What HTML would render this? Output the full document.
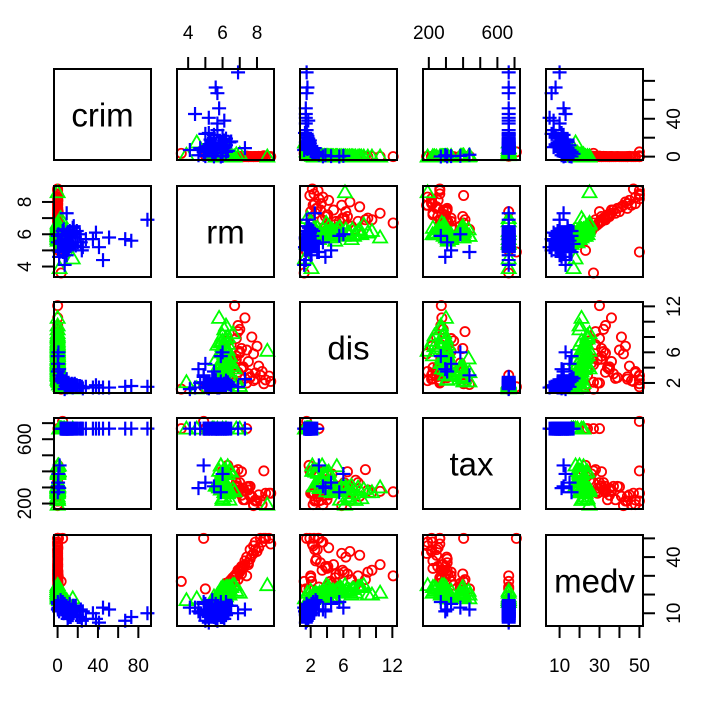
<!DOCTYPE html>
<html><head><meta charset="utf-8"><style>
html,body{margin:0;padding:0;background:#fff}
svg text{font-family:"Liberation Sans",Arial,sans-serif;fill:#000}
</style></head><body>
<svg id="chart" width="719" height="708" viewBox="0 0 719 708" xmlns="http://www.w3.org/2000/svg"></svg>
<script>
const variables = ["crim","rm","dis","tax","medv"];
const ranges = [[0.00632,88.976],[3.561,8.78],[1.13,12.13],[187,711],[5,50]];
const ticks = [[0,20,40,60,80],[4,5,6,7,8],[2,4,6,8,10,12],[200,300,400,500,600,700],[10,20,30,40,50]];
const tickLabels = [["0","","40","","80"],["4","","6","","8"],["2","","6","","","12"],["200","","","","600",""],["10","","30","","50"]];
const leftLabels = [[],["4","","6","","8"],[],["200","","","","600",""],[]];
const rightLabels = [["0","","40","",""],[],["2","","6","","","12"],[],["10","","","40",""]];

const redCrim=[0.01,0.03,0.02,0.06,0.1,0.05,0.3,0.5,0.02,0.04,0.08,0.6,0.2,0.01,0.03,0.07,0.15,0.9,1.2,0.4,0.05,0.02,0.3,5.0,0.1,0.06,0.02,0.8,3.5,0.04,
 0.02,0.05,0.1,0.03,0.2,0.08,0.01,0.4,0.06,0.12,0.03,0.09,0.25,0.04,0.15,0.07,0.02,0.5,0.11,0.05];
const redRm=[7.2,8.7,6.8,7.5,6.5,7.9,7.0,6.2,8.3,7.7,6.9,7.4,6.6,8.0,7.1,6.4,7.6,8.4,5.0,6.1,7.8,6.3,8.1,4.9,7.3,6.7,8.8,6.0,3.6,7.0,
 6.6,7.3,6.9,7.8,6.4,7.1,8.2,6.7,7.5,6.8,7.0,8.5,6.5,7.4,6.9,7.2,7.6,6.3,7.9,6.8];
const redDis=[4.0,2.9,5.5,3.2,7.0,2.5,6.1,4.6,3.5,8.0,9.5,2.0,5.0,6.8,3.8,4.4,2.7,1.9,1.4,3.0,5.8,7.5,4.2,1.5,10.5,12.1,2.2,3.6,1.2,9.0,
 2.0,2.6,3.4,2.3,5.2,6.5,3.0,2.1,4.8,7.8,5.9,2.4,3.9,6.3,8.7,4.1,2.8,1.8,3.3,5.1];
const redTax=[224,264,300,307,270,216,330,384,193,245,270,666,296,216,252,330,307,403,666,666,187,345,254,711,276,273,264,403,666,284,
 264,224,307,193,270,398,216,403,284,330,287,264,384,304,411,296,245,437,222,311];
const redMedv=[34,50,31,37,28,44,32,26,48,41,33,30,29,43,35,27,39,50,23,24,42,25,45,50,36,30,47,22,27,32,
 29,38,33,46,26,31,50,27,36,30,33,50,24,40,28,35,44,23,48,31];

const greenCrim=[0.03,0.1,0.2,0.05,0.5,0.8,0.15,0.07,1.5,0.3,0.04,0.6,2.5,0.02,0.09,0.4,3.0,0.12,0.25,5.5,0.06,0.35,0.18,1.0,0.08,9.0,0.22,0.05,4.0,0.14,0.45,0.03,0.7,15,0.11,0.28,2.0,0.01,0.16,7.0,
 0.1,0.2,0.05,0.3,0.6,0.15,0.08,0.4,0.02,0.9,0.25,0.12,0.5,0.07,0.18,1.2,0.35,0.04,0.22,0.09,0.7,0.13,0.28,0.06,0.45];
const greenRm=[6.0,5.9,6.2,6.3,5.8,6.1,6.4,5.7,6.0,6.5,6.2,5.9,6.8,6.1,5.6,6.3,7.0,6.0,6.2,5.4,6.6,5.9,6.1,6.4,5.8,6.2,6.0,8.6,5.5,6.3,5.9,6.1,6.2,4.5,6.0,5.8,3.9,6.2,6.7,5.7,
 5.9,6.1,6.0,6.2,5.8,6.3,6.0,6.1,5.9,6.2,6.4,5.8,6.0,6.1,6.3,5.9,6.2,6.0,6.1,5.7,6.0,6.2,5.9,6.3,6.1];
const greenDis=[6.0,4.5,3.8,8.0,2.5,2.2,5.5,7.0,1.8,4.2,9.5,3.0,2.0,6.5,5.0,3.5,1.6,7.5,4.8,1.5,8.5,3.2,5.8,2.8,10.5,1.7,4.0,6.2,1.9,5.2,3.4,9.0,2.6,1.3,6.8,4.4,2.1,7.8,3.9,1.6,
 2.4,3.1,4.7,5.3,2.7,6.3,3.6,4.1,7.3,2.3,5.6,3.3,2.9,6.7,4.6,2.2,3.9,8.2,5.1,3.0,2.6,4.3,6.0,7.1,3.7];
const greenTax=[300,330,296,280,307,403,284,311,666,398,270,330,666,245,311,384,666,222,277,666,289,330,304,403,300,666,391,193,666,432,437,270,403,666,233,307,666,300,276,666,
 307,296,330,277,403,304,311,384,287,403,224,330,391,300,270,437,307,233,289,330,398,304,311,264,384];
const greenMedv=[21,19,22,24,18,19,23,20,17,24,20,19,22,23,18,21,21,21,22,16,25,19,22,20,21,17,23,25,19,22,20,20,21,18,22,19,17,24,25,16,
 20,21,22,23,19,22,20,21,23,19,24,18,20,22,21,18,20,24,22,19,20,21,22,23,20];

const blueCrim=[89,73,51,38,25,15,10,8,12,20,45,67,9,14,18,5,0.3,0.5,0.8,1.5,3,6,11,22,28,41,7,13,16,2,0.2,4,9,19,24,
 8,11,14,6,9,13,17,10,7,12,5,15,23,9,11,35,4,8,10,6];
const blueRm=[6.9,5.6,5.8,6.1,5.2,6.4,5.0,5.6,6.2,5.5,4.4,5.7,7.3,5.9,5.3,4.9,5.5,5.0,6.0,4.6,5.4,6.3,5.1,6.0,5.7,5.2,4.1,5.8,6.5,4.9,5.9,5.6,4.7,6.2,5.0,
 5.7,6.0,5.4,6.3,5.1,5.9,6.1,5.6,4.9,5.3,6.2,5.8,5.5,6.0,5.2,5.7,5.9,5.4,6.1,5.0];
const blueDis=[1.5,1.6,1.4,1.7,1.3,1.8,2.0,2.2,1.5,1.6,1.4,1.5,2.5,1.9,1.7,2.8,3.5,4.5,6.0,3.8,2.6,2.1,1.9,1.6,1.5,1.4,1.2,1.8,1.6,3.0,5.5,2.4,2.0,1.7,1.5,
 1.6,1.8,1.5,2.0,1.4,1.7,1.9,1.5,2.1,1.6,2.3,1.4,1.5,1.8,1.7,1.4,2.2,1.6,1.9,2.0];
const blueTax=[666,666,666,666,666,666,666,666,666,666,666,666,666,666,666,666,307,330,384,296,666,666,666,666,666,666,666,666,666,437,270,666,666,666,666,
 666,666,666,666,666,666,666,666,666,666,666,666,666,666,666,666,666,666,666,666];
const blueMedv=[10,8,12,7,11,14,9,13,15,8,13,6,12,10,14,16,12,15,13,11,17,10,9,8,7,5,13,11,14,12,16,15,10,9,6,
 12,10,9,14,11,8,13,7,15,10,16,9,12,11,8,10,14,13,9,11];

const groups=[
 {name:"red",color:"#ff0000",shape:"circle",cols:[redCrim,redRm,redDis,redTax,redMedv]},
 {name:"green",color:"#00ff00",shape:"triangle",cols:[greenCrim,greenRm,greenDis,greenTax,greenMedv]},
 {name:"blue",color:"#0000ff",shape:"plus",cols:[blueCrim,blueRm,blueDis,blueTax,blueMedv]}
];

const NS="http://www.w3.org/2000/svg";
const svg=document.getElementById("chart");
const colX=[54,177,300,423,546], rowY=[69,186,302,418,535], W=97, H=91;
function mk(tag,attrs,parent){const e=document.createElementNS(NS,tag);for(const k in attrs)e.setAttribute(k,attrs[k]);(parent||svg).appendChild(e);return e;}
function sx(v,i,x0){const[a,b]=ranges[i];const r=b-a;return x0+(v-(a-0.04*r))/(1.08*r)*W;}
function sy(v,i,y0){const[a,b]=ranges[i];const r=b-a;return y0+H-(v-(a-0.04*r))/(1.08*r)*H;}

for(let r=0;r<5;r++){for(let c=0;c<5;c++){
  const x0=colX[c],y0=rowY[r];
  const g=mk("g",{});
  
  
  const clip=mk("clipPath",{id:"cp"+r+c},g);
  mk("rect",{x:x0-6,y:y0-6,width:W+12,height:H+12},clip);
  if(r===c){
    const t=mk("text",{x:x0+W/2,y:y0+H/2+12,"text-anchor":"middle","font-size":"33"},g);
    t.textContent=variables[r];
    
    
  } else {
    const pts=mk("g",{"clip-path":"url(#cp"+r+c+")"},g);
    for(const grp of groups){
      const xs=grp.cols[c], ys=grp.cols[r];
      for(let k=0;k<xs.length;k++){
        const px=sx(xs[k],c,x0), py=sy(ys[k],r,y0);
        let m;
        if(grp.shape==="circle") m=mk("circle",{cx:px,cy:py,r:4.6,fill:"none",stroke:grp.color,"stroke-width":1.8},pts);
        else if(grp.shape==="triangle") m=mk("polygon",{points:`${px},${py-7} ${px-7},${py+5} ${px+7},${py+5}`,fill:"none",stroke:grp.color,"stroke-width":1.8},pts);
        else m=mk("path",{d:`M${px-7},${py}H${px+7}M${px},${py-7}V${py+7}`,stroke:grp.color,"stroke-width":2.2},pts);
        
        
      }
    }
  }
  const box=mk("rect",{x:x0,y:y0,width:W,height:H,fill:"none",stroke:"#000","stroke-width":2},g);
  
  
}}

function axisH(c,y,dir,labels,name){
  const g=mk("g",{});
  
  
  ticks[c].forEach((t,i)=>{
    const x=sx(t,c,colX[c]);
    mk("line",{x1:x,x2:x,y1:y,y2:y+dir*12,stroke:"#000","stroke-width":2},g);
    if(labels[i]){const tx=mk("text",{x:x,y:dir<0?y-30:y+46,"text-anchor":"middle","font-size":"19"},g);tx.textContent=labels[i];}
  });
}
function axisV(r,x,dir,labels,name){
  const g=mk("g",{});
  
  
  ticks[r].forEach((t,i)=>{
    const y=sy(t,r,rowY[r]);
    mk("line",{x1:x,x2:x+dir*12,y1:y,y2:y,stroke:"#000","stroke-width":2},g);
    if(labels&&labels[i]){const lx=dir<0?x-30:x+30;const tx=mk("text",{x:lx,y:y,"text-anchor":"middle","font-size":"19",transform:`rotate(-90 ${lx} ${y}) translate(0 7)`},g);tx.textContent=labels[i];}
  });
}
axisH(1,rowY[0],-1,tickLabels[1],"top-axis-rm");
axisH(3,rowY[0],-1,tickLabels[3],"top-axis-tax");
axisH(0,rowY[4]+H,1,tickLabels[0],"bottom-axis-crim");
axisH(2,rowY[4]+H,1,tickLabels[2],"bottom-axis-dis");
axisH(4,rowY[4]+H,1,tickLabels[4],"bottom-axis-medv");
axisV(1,colX[0],-1,leftLabels[1],"left-axis-rm");
axisV(3,colX[0],-1,leftLabels[3],"left-axis-tax");
axisV(0,colX[4]+W,1,rightLabels[0],"right-axis-crim");
axisV(2,colX[4]+W,1,rightLabels[2],"right-axis-dis");
axisV(4,colX[4]+W,1,rightLabels[4],"right-axis-medv");
</script>
</body></html>
